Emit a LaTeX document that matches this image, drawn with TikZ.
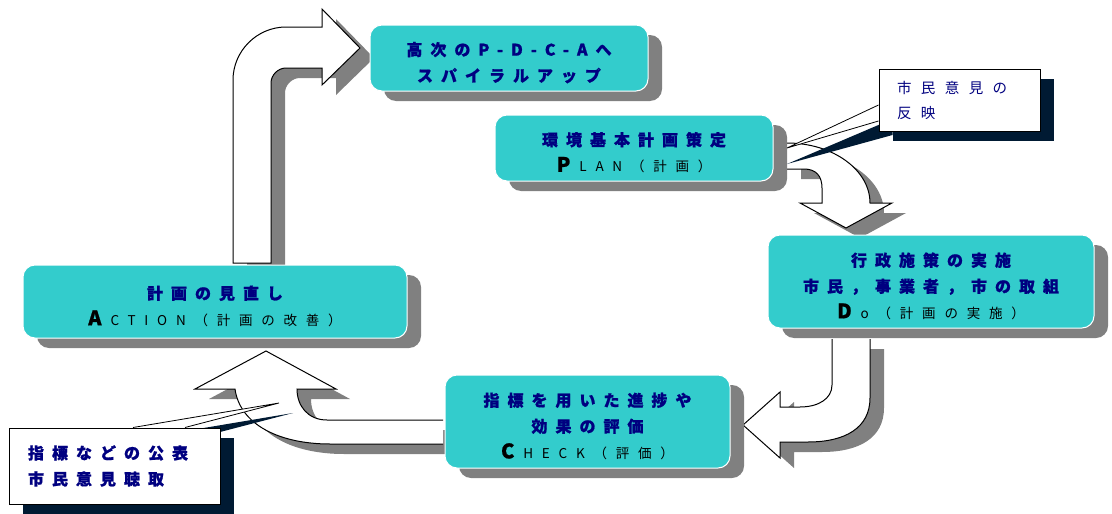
\documentclass[tikz,border=0pt]{standalone}
\usepackage{fontspec}
\usepackage{tikz}
\usetikzlibrary{shadows}
\newfontfamily\jpfont{Noto Sans CJK JP}[LetterSpace=50,BoldFeatures={FakeBold=1}]
\newfontfamily\jpwide{Noto Sans CJK JP}[LetterSpace=65]
\definecolor{boxcyan}{HTML}{33CCCC}
\definecolor{shadegray}{HTML}{808080}
\definecolor{textnavy}{HTML}{000080}
\definecolor{notenavy}{HTML}{001A33}
\newcommand\pdca[2]{{\color{black}\fontsize{20}{20}\selectfont #1}\hspace{9pt}{\jpwide\mdseries\color{black}\fontsize{13.5}{26}\selectfont #2}}
\newcommand\topgap{\rule{0pt}{23pt}}
\pgfdeclarelayer{back}
\pgfdeclarelayer{mid}
\pgfsetlayers{back,mid,main}

\begin{document}
\begin{tikzpicture}[x=1pt,y=-1pt,
  stage/.style={rounded corners=12pt,fill=boxcyan,draw=white,line width=1pt,inner sep=0pt,
    align=center,text=textnavy,font=\jpfont\bfseries\fontsize{16}{26}\selectfont,
    drop shadow={shadow xshift=14pt,shadow yshift=-10pt,fill=shadegray,opacity=1}},
  note/.style={rectangle,fill=white,draw=black,line width=1pt,inner sep=0pt,align=left,
    text=textnavy,drop shadow={shadow xshift=14pt,shadow yshift=-10pt,fill=notenavy,opacity=1}},
  block/.style={fill=white,draw=black,line width=1pt,
    drop shadow={shadow xshift=14pt,shadow yshift=-10pt,fill=shadegray,opacity=1}},
  wedge/.style={fill=white,draw=black,line width=0.8pt},
  wedge shade/.style={fill=notenavy}]

    \useasboundingbox (0,0) rectangle (1112,514);

    % stages of the cycle
    \node[stage,minimum width=278pt,minimum height=66pt] (spiral) at (509,58)
      {\topgap 高次のP-D-C-Aへ\\スパイラルアップ};
    \node[stage,minimum width=278pt,minimum height=66pt] (plan) at (634,148)
      {\topgap 環境基本計画策定\\\pdca{P}{LAN（計画）}};
    \node[stage,minimum width=326pt,minimum height=93pt] (do) at (931,281.5)
      {\topgap 行政施策の実施\\市民，事業者，市の取組\\\pdca{D}{o（計画の実施）}};
    \node[stage,minimum width=285pt,minimum height=93pt] (check) at (587.5,421.5)
      {\topgap 指標を用いた進捗や\\効果の評価\\\pdca{C}{HECK（評価）}};
    \node[stage,minimum width=384pt,minimum height=73pt] (act) at (215,301.5)
      {\topgap 計画の見直し\\\pdca{A}{CTION（計画の改善）}};

    % notes
    \node[note,minimum width=161pt,minimum height=62pt,text width=125pt,
      font=\jpwide\fontsize{14.5}{25}\selectfont] (rnote) at (959.5,100) {市民意見の\\反映};
    \node[note,minimum width=211pt,minimum height=76pt,text width=173pt,
      font=\jpfont\bfseries\fontsize{16}{26}\selectfont] (lnote) at (114.5,466) {指標などの公表\\市民意見聴取};

    \coordinate (rtip) at (787,148);
    \coordinate (rtipshade) at (787,164);
    \coordinate (ltip) at (279,403);
    \coordinate (ltipshade) at (293,413);

    \begin{pgfonlayer}{mid}
    \fill[wedge shade] ([xshift=14pt,yshift=-19pt]rnote.west) -- (rtipshade)
      -- ([xshift=14pt,yshift=-35pt]rnote.west) -- cycle;
    \draw[wedge] ([yshift=-5pt]rnote.west) -- (rtip) -- ([yshift=-21pt]rnote.west);
    \fill[wedge shade] ([xshift=32.5pt,yshift=-10pt]lnote.north) -- (ltipshade)
      -- ([xshift=84.5pt,yshift=-10pt]lnote.north) -- cycle;
    \draw[wedge] ([xshift=18.5pt]lnote.north) -- (ltip) -- ([xshift=70.5pt]lnote.north);
    \end{pgfonlayer}

    % block arrows
    \begin{pgfonlayer}{back}
    \draw[block] (233,263) -- (233,80) .. controls (233,51) and (257,27) .. (286,27)
      -- (322,27) -- (322,9) -- (360,48) -- (322,85) -- (322,68) -- (286,68)
      .. controls (278,68) and (271,75) .. (271,83) -- (271,263) -- cycle;
    \draw[block] (787,143) .. controls (833,143) and (870,170) .. (870,203)
      -- (892,203) -- (846,228) -- (800,203) -- (822,203) -- (822,188)
      .. controls (822,176) and (816,169) .. (804,169) -- (787,169);
    \draw[block] (832,339) -- (832,385) .. controls (832,399) and (818,407) .. (800,407)
      -- (780,407) -- (780,392) -- (743,425) -- (780,458) -- (780,442) -- (808,442)
      .. controls (845,442) and (870,428) .. (870,398) -- (870,339);
    \draw[block] (443,420) -- (327,420) .. controls (308,420) and (297,406) .. (297,389)
      -- (336,389) -- (266,351) -- (195,389) -- (235,389)
      .. controls (240,425) and (280,444) .. (330,444) -- (443,444);
    \end{pgfonlayer}
\end{tikzpicture}
\end{document}
